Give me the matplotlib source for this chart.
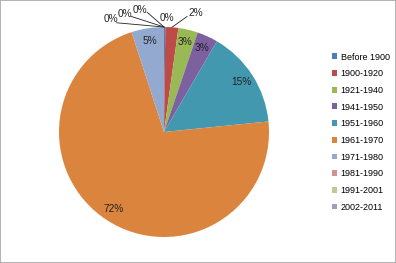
import numpy as np
import matplotlib.pyplot as plt
from matplotlib.patches import Rectangle

periods = ['Before 1900', '1900-1920', '1921-1940', '1941-1950', '1951-1960',
           '1961-1970', '1971-1980', '1981-1990', '1991-2001', '2002-2011']
shares = [0.2, 2.0, 3.0, 3.2, 15.0, 71.6, 5.0, 0.0, 0.0, 0.0]
colors = ['#4a7ebb', '#be4b48', '#98b954', '#7d60a0', '#4198af',
          '#db843d', '#93a9cf', '#d19392', '#b9cd96', '#a99bbd']

plt.rcParams['font.family'] = ['Liberation Sans', 'DejaVu Sans']

fig = plt.figure(figsize=(3.96, 2.63), dpi=100)
fig.patches.append(Rectangle((0, 0), 1, 1, transform=fig.transFigure, fill=False,
                             edgecolor='#a6a6a6', linewidth=1.2))

r_px = 105
ax = fig.add_axes([(164 - r_px) / 396, (131 - r_px) / 263, 2 * r_px / 396, 2 * r_px / 263])
wedges, _ = ax.pie(shares, colors=colors, startangle=90, counterclock=False,
                   wedgeprops=dict(linewidth=0))
ax.set_xlim(-1, 1)
ax.set_ylim(-1, 1)
ax.set_aspect('equal')
ax.axis('off')

total = sum(shares)
pct = [f'{round(v / total * 100):.0f}%' for v in shares]

def edge_pt(w, r=1.0):
    a = np.deg2rad((w.theta1 + w.theta2) / 2)
    return r * np.cos(a), r * np.sin(a)

# inside labels
for i in [2, 3, 4, 5, 6]:
    x, y = edge_pt(wedges[i], 0.88)
    ax.text(x, y, pct[i], ha='center', va='center', fontsize=7.3, color='#222222')

# outside labels with leader lines
out = {0: ((0.03, 1.09), None),
       1: ((0.30, 1.13), (0.22, 1.10)),
       7: ((-0.51, 1.08), (-0.45, 1.04)),
       8: ((-0.37, 1.12), (-0.31, 1.10)),
       9: ((-0.23, 1.16), (-0.16, 1.14))}
for i, (tpos, lstart) in out.items():
    ax.text(tpos[0], tpos[1], pct[i], ha='center', va='center', fontsize=7.3,
            color='#222222', clip_on=False)
    if lstart is not None:
        ex, ey = edge_pt(wedges[i], 1.0)
        ax.plot([lstart[0], ex], [lstart[1], ey], color='#222222', lw=0.6,
                clip_on=False)

handles = [Rectangle((0, 0), 1, 1, facecolor=c, edgecolor='none') for c in colors]
fig.legend(handles, periods, loc='upper left', bbox_to_anchor=(327 / 396, 1 - 48 / 263),
           frameon=False, fontsize=6.5, handlelength=0.6, handleheight=0.6,
           handletextpad=0.4, labelspacing=0.85, borderpad=0)

fig.savefig('out.png', dpi=100)
